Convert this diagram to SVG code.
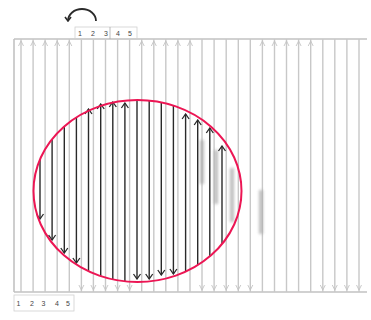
<svg xmlns="http://www.w3.org/2000/svg" width="371" height="320" viewBox="0 0 371 320">
<style>
.grid{stroke:#c8c8c8;stroke-width:1.4;fill:none}
.frame{stroke:#c2c2c2;stroke-width:1.6;fill:none}
.faint{stroke:#c4c4c4;stroke-width:0.9;fill:none}
.dark{stroke:#2a2a2a;stroke-width:1.4;fill:none;marker-end:url(#ah)}
.ghost{stroke:#a8a8a8;stroke-width:4;opacity:0.75;filter:url(#blur)}
.lbl{font-family:"Liberation Sans",Arial,sans-serif;font-size:7px;fill:#444;text-anchor:middle}
.box{stroke:#d0d0d0;stroke-width:0.8;fill:none}
</style>
<defs>
<marker id="ah" viewBox="-6 -5 7 10" refX="0" refY="0" markerWidth="7" markerHeight="10" markerUnits="userSpaceOnUse" orient="auto">
<path d="M-5,-3.5 L0,0 L-5,3.5" fill="none" stroke="#2a2a2a" stroke-width="1.3"/>
</marker>
<marker id="ah2" viewBox="-6 -5 7 10" refX="0" refY="0" markerWidth="7" markerHeight="10" markerUnits="userSpaceOnUse" orient="auto">
<path d="M-4,-3 L0,0 L-4,3" fill="none" stroke="#2a2a2a" stroke-width="1.6"/>
</marker>
<path id="up" d="M-2.5,5 L0,0 L2.5,5" class="faint"/>
<path id="dn" d="M-2.5,-5 L0,0 L2.5,-5" class="faint"/>
<filter id="blur" filterUnits="userSpaceOnUse" x="0" y="0" width="371" height="320"><feGaussianBlur stdDeviation="1.6"/></filter>
</defs>

<g id="grid">
<path class="frame" d="M14,39 H367 M14,292 H367 M14,39 V292"/>
<path class="grid" d="M21,39V292 M33.1,39V292 M45.1,39V292 M57.2,39V292 M69.3,39V292 M81.4,39V292 M93.4,39V292 M105.5,39V292 M117.6,39V292 M129.6,39V292 M141.7,39V292 M153.8,39V292 M165.8,39V292 M177.9,39V292 M190,39V292 M202,39V292 M214.1,39V292 M226.2,39V292 M238.3,39V292 M250.3,39V292 M262.4,39V292 M274.5,39V292 M286.5,39V292 M298.6,39V292 M310.7,39V292 M322.8,39V292 M334.8,39V292 M346.9,39V292 M359,39V292"/>
</g>

<g id="top-arrows">
<use href="#up" x="21" y="41"/><use href="#up" x="33.1" y="41"/><use href="#up" x="45.1" y="41"/><use href="#up" x="57.2" y="41"/><use href="#up" x="69.3" y="41"/>
<use href="#up" x="141.7" y="41"/><use href="#up" x="153.8" y="41"/><use href="#up" x="165.8" y="41"/><use href="#up" x="177.9" y="41"/><use href="#up" x="190" y="41"/>
<use href="#up" x="262.4" y="41"/><use href="#up" x="274.5" y="41"/><use href="#up" x="286.5" y="41"/><use href="#up" x="298.6" y="41"/><use href="#up" x="310.7" y="41"/>
</g>
<g id="bottom-arrows">
<use href="#dn" x="81.4" y="290"/><use href="#dn" x="93.4" y="290"/><use href="#dn" x="105.5" y="290"/><use href="#dn" x="117.6" y="290"/><use href="#dn" x="129.6" y="290"/>
<use href="#dn" x="202" y="290"/><use href="#dn" x="214.1" y="290"/><use href="#dn" x="226.2" y="290"/><use href="#dn" x="238.3" y="290"/><use href="#dn" x="250.3" y="290"/>
<use href="#dn" x="322.8" y="290"/><use href="#dn" x="334.8" y="290"/><use href="#dn" x="346.9" y="290"/><use href="#dn" x="359" y="290"/>
</g>

<g id="ghosts">
<line class="ghost" x1="202" y1="140" x2="202" y2="184"/>
<line class="ghost" x1="216" y1="150" x2="216" y2="204"/>
<line class="ghost" x1="232" y1="168" x2="232" y2="222"/>
<line class="ghost" x1="261" y1="190" x2="261" y2="234"/>
</g>

<g id="connectors">
<line class="dark" x1="40" y1="159.5" x2="40" y2="219"/>
<line class="dark" x1="52.1" y1="139" x2="52.1" y2="240"/>
<line class="dark" x1="64.3" y1="126.5" x2="64.3" y2="253"/>
<line class="dark" x1="76.4" y1="117.5" x2="76.4" y2="263"/>
<line class="dark" x1="88.5" y1="271" x2="88.5" y2="109"/>
<line class="dark" x1="100.7" y1="276" x2="100.7" y2="104"/>
<line class="dark" x1="112.8" y1="279" x2="112.8" y2="102"/>
<line class="dark" x1="124.9" y1="281" x2="124.9" y2="103"/>
<line class="dark" x1="137" y1="100" x2="137" y2="279"/>
<line class="dark" x1="149.2" y1="100.6" x2="149.2" y2="279"/>
<line class="dark" x1="161.3" y1="102.4" x2="161.3" y2="275"/>
<line class="dark" x1="173.4" y1="105.6" x2="173.4" y2="274"/>
<line class="dark" x1="185.6" y1="271.5" x2="185.6" y2="114"/>
<line class="dark" x1="197.7" y1="265" x2="197.7" y2="120"/>
<line class="dark" x1="209.8" y1="256.4" x2="209.8" y2="128"/>
<line class="dark" x1="222" y1="244" x2="222" y2="146"/>
</g>

<g id="ellipse">
<ellipse cx="137.5" cy="191" rx="104" ry="91" fill="none" stroke="#ec1654" stroke-width="2"/>
</g>

<g id="rotate-arc">
<path d="M96,21 A14,12 0 0 0 68,21" fill="none" stroke="#2a2a2a" stroke-width="1.8" marker-end="url(#ah2)"/>
</g>

<g id="top-labels">
<rect class="box" x="75" y="27" width="62" height="12"/>
<line x1="110" y1="27" x2="110" y2="39" stroke="#aaa" stroke-width="0.8"/>
<text class="lbl" x="80" y="35.5">1</text>
<text class="lbl" x="93" y="35.5">2</text>
<text class="lbl" x="106" y="35.5">3</text>
<text class="lbl" x="118" y="35.5">4</text>
<text class="lbl" x="130" y="35.5">5</text>
</g>

<g id="bottom-labels">
<rect class="box" x="14" y="295" width="60" height="16"/>
<text class="lbl" x="18.5" y="306">1</text>
<text class="lbl" x="32" y="306">2</text>
<text class="lbl" x="43.5" y="306">3</text>
<text class="lbl" x="57" y="306">4</text>
<text class="lbl" x="68" y="306">5</text>
</g>
</svg>
